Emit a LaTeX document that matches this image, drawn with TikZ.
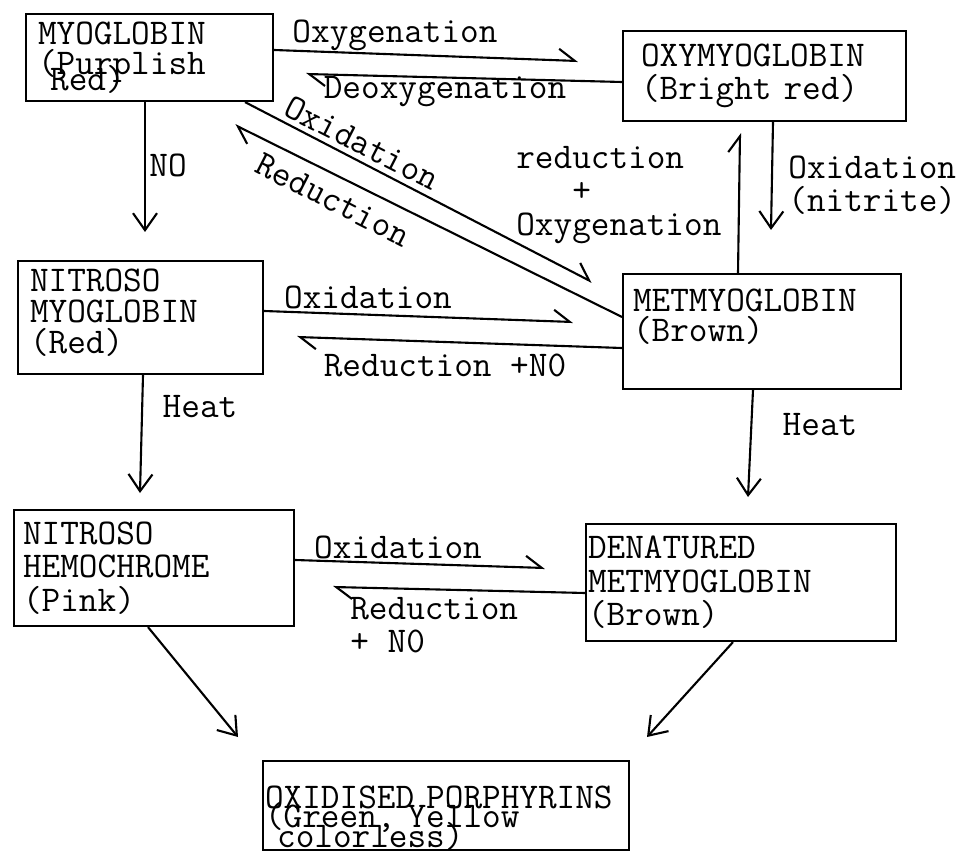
\documentclass[tikz,border=0pt]{standalone}
\usepackage{fontspec}
\usetikzlibrary{arrows.meta}

\tikzset{
  box/.style={draw, line width=1.2pt, rectangle, anchor=north west, align=left,
    inner ysep=0pt, font=\ttfamily\fontsize{20.6}{19}\selectfont},
  lbl/.style={inner sep=0pt, font=\ttfamily\fontsize{20.6}{19}\selectfont},
  harp/.style={line width=1.2pt, -{Straight Barb[left, length=3.2mm, width=4.6mm]}},
  full/.style={line width=1.2pt, -{Straight Barb[length=3.4mm, width=4.8mm]}},
}

\begin{document}
\begin{tikzpicture}[x=0.02cm, y=-0.02cm]
  \useasboundingbox (0,0) rectangle (970,851);

  \node[box, inner xsep=0.24cm, text width=4.46cm, minimum height=1.74cm] (myo) at (25,13)
    {MYOGLOBIN\\[-1.5pt](Purplish\\[-10pt]\ Red)};
  \node[box, inner xsep=0.36cm, text width=4.94cm, minimum height=1.8cm] (oxy) at (622,30)
    {OXYMYOGLOBIN\\(Bright red)};
  \node[box, inner xsep=0.24cm, text width=4.42cm, minimum height=2.26cm] (nmyo) at (17,260)
    {NITROSO\\[-1.5pt]MYOGLOBIN\\[-1.5pt](Red)\\[-12pt]~};
  \node[box, inner xsep=0.2cm, text width=5.16cm, minimum height=2.3cm] (met) at (622,273)
    {METMYOGLOBIN\\[-2pt](Brown)\\~};
  \node[box, inner xsep=0.18cm, text width=5.24cm, minimum height=2.32cm] (nh) at (13,509)
    {NITROSO\\HEMOCHROME\\(Pink)};
  \node[box, inner xsep=0.04cm, text width=6.12cm, minimum height=2.34cm] (dm) at (585,523)
    {DENATURED\\METMYOGLOBIN\\(Brown)};
  \node[box, inner xsep=0.04cm, text width=7.24cm, minimum height=1.76cm] (op) at (262,760)
    {\rule{0pt}{27pt}OXIDISED PORPHYRINS\\[-8pt](Green, Yellow\\[-8pt]\ colorless)};

  \node[lbl] (loxy) at (395,35) {Oxygenation};
  \node[lbl] (ldeo) at (445,92) {Deoxygenation};
  \node[lbl, rotate=-27] (loxd) at (362,143) {Oxidation};
  \node[lbl, rotate=-27] (lred) at (333,200) {Reduction};
  \node[lbl] (lno) at (168,165) {NO};
  \node[lbl, align=left, anchor=west] (lnit) at (788,185) {Oxidation\\(nitrite)};
  \node[lbl, align=left, anchor=west] (lreox) at (516,195) {reduction\\\ \ \ +\\Oxygenation};
  \node[lbl] (loxm) at (368,297) {Oxidation};
  \node[lbl] (lredm) at (445,365) {Reduction +N0};
  \node[lbl] (lhl) at (200,407) {Heat};
  \node[lbl] (lhr) at (820,425) {Heat};
  \node[lbl] (loxb) at (398,547) {Oxidation};
  \node[lbl, align=left, anchor=west] (lredb) at (350,625) {Reduction\\+ N0};

  \coordinate (tOxy) at (578,61);
  \coordinate (tDeo) at (306,74);
  \coordinate (tOxd) at (592,282);
  \coordinate (tRed) at (235,125);
  \coordinate (tNO) at (145,232);
  \coordinate (tNit) at (771,230);
  \coordinate (tReox) at (740,133);
  \coordinate (tOxm) at (573,322);
  \coordinate (tRedm) at (297,337);
  \coordinate (tHl) at (140,493);
  \coordinate (tHr) at (748,497);
  \coordinate (tOxb) at (545,568);
  \coordinate (tRedb) at (333,587);
  \coordinate (tNhOp) at (238,737);
  \coordinate (tDmOp) at (647,737);

  \draw[harp] (myo.east |- 0,50) -- (tOxy);
  \draw[harp] (oxy.west |- 0,82) -- (tDeo);
  \draw[harp] (myo.south -| 245,0) -- (tOxd);
  \draw[harp] (met.west |- 0,317) -- (tRed);
  \draw[full] (myo.south -| 145,0) -- (tNO);
  \draw[full] (oxy.south -| 773,0) -- (tNit);
  \draw[harp] (met.north -| 738,0) -- (tReox);
  \draw[harp] (nmyo.east |- 0,311) -- (tOxm);
  \draw[harp] (met.west |- 0,348) -- (tRedm);
  \draw[full] (nmyo.south -| 143,0) -- (tHl);
  \draw[full] (met.south -| 753,0) -- (tHr);
  \draw[harp] (nh.east |- 0,560) -- (tOxb);
  \draw[harp] (dm.west |- 0,593) -- (tRedb);
  \draw[full] (nh.south -| 148,0) -- (tNhOp);
  \draw[full] (dm.south -| 733,0) -- (tDmOp);
\end{tikzpicture}
\end{document}
